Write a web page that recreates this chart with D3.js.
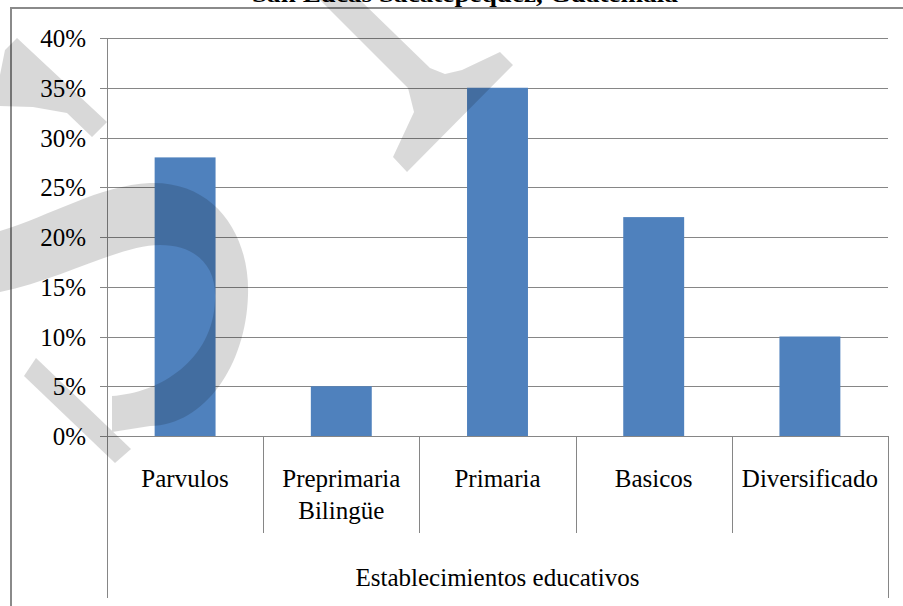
<!DOCTYPE html>
<html>
<head>
<meta charset="utf-8">
<script src="https://cdn.jsdelivr.net/npm/d3@7"></script>
<style>
  body { margin: 0; background: #fff; }
</style>
</head>
<body>
<svg width="903" height="606"></svg>
<script>
var categories = ["Parvulos", "Preprimaria Bilingüe", "Primaria", "Basicos", "Diversificado"];
var values = [0.28, 0.05, 0.35, 0.22, 0.10];
var yTicks = [0, 0.05, 0.10, 0.15, 0.20, 0.25, 0.30, 0.35, 0.40];
var title = "San Lucas Sacatepéquez, Guatemala";
var axisTitle = "Establecimientos educativos";

var svg = d3.select("svg"),
    plotLeft = 107,
    plotRight = 888,
    plotTop = 38,
    plotBottom = 436,
    boxBottom = 598,
    gridColor = "#868686",
    font = "'Liberation Serif'",
    fontSize = 25;

var x = d3.scaleBand()
    .domain(categories)
    .range([plotLeft, plotRight]);

var y = d3.scaleLinear()
    .domain([0, 0.4])
    .range([plotBottom, plotTop]);

// chart frame (cut at right / bottom in the original)
svg.append("rect")
    .attr("x", 11).attr("y", 8)
    .attr("width", 920).attr("height", 640)
    .attr("fill", "none")
    .attr("stroke", "#8a8a8a")
    .attr("stroke-width", 2);

// title, mostly cropped
svg.append("text")
    .attr("x", 252).attr("y", 2)
    .attr("textLength", 426)
    .attr("lengthAdjust", "spacingAndGlyphs")
    .attr("font-family", font)
    .attr("font-size", 24)
    .attr("font-weight", "bold")
    .text(title);

// gridlines + tick marks
svg.append("g")
    .selectAll("line")
    .data(yTicks)
    .enter().append("line")
    .attr("x1", plotLeft - 7)
    .attr("x2", plotRight)
    .attr("y1", function(d) { return Math.round(y(d)) + 0.5; })
    .attr("y2", function(d) { return Math.round(y(d)) + 0.5; })
    .attr("stroke", gridColor);

svg.append("g")
    .selectAll("text")
    .data(yTicks)
    .enter().append("text")
    .attr("x", 86)
    .attr("y", function(d) { return y(d); })
    .attr("dy", "0.36em")
    .attr("text-anchor", "end")
    .attr("font-family", font)
    .attr("font-size", fontSize)
    .text(d3.format(".0%"));

// bars
var barW = x.bandwidth() * 0.39;
svg.append("g")
    .selectAll("rect")
    .data(values)
    .enter().append("rect")
    .attr("x", function(d, i) { return x(categories[i]) + (x.bandwidth() - barW) / 2; })
    .attr("y", function(d) { return y(d); })
    .attr("width", barW)
    .attr("height", function(d) { return y(0) - y(d); })
    .attr("fill", "#4F81BD");

// y axis line down through the category box
svg.append("line")
    .attr("x1", plotLeft + 0.5).attr("x2", plotLeft + 0.5)
    .attr("y1", plotTop).attr("y2", boxBottom)
    .attr("stroke", gridColor);

// category dividers
var edges = categories.map(function(c) { return x(c) + x.bandwidth(); });
svg.append("g")
    .selectAll("line")
    .data(edges)
    .enter().append("line")
    .attr("x1", function(d) { return Math.round(d) + 0.5; })
    .attr("x2", function(d) { return Math.round(d) + 0.5; })
    .attr("y1", plotBottom)
    .attr("y2", function(d, i) { return i == edges.length - 1 ? boxBottom : 533; })
    .attr("stroke", gridColor);

// category labels (wrap on spaces for the two-word one)
var labels = svg.append("g")
    .selectAll("text")
    .data(categories)
    .enter().append("text")
    .attr("text-anchor", "middle")
    .attr("font-family", font)
    .attr("font-size", fontSize);

labels.each(function(d) {
    var words = d.split(" "),
        t = d3.select(this);
    words.forEach(function(w, k) {
        t.append("tspan")
            .attr("x", x(d) + x.bandwidth() / 2)
            .attr("y", 487 + k * 32)
            .text(w);
    });
});

svg.append("text")
    .attr("x", (plotLeft + plotRight) / 2)
    .attr("y", 586)
    .attr("text-anchor", "middle")
    .attr("font-family", font)
    .attr("font-size", fontSize)
    .text(axisTitle);

// grey watermark over the page
var mark = svg.append("g")
    .attr("opacity", 0.15)
    .attr("fill", "#000");

mark.append("path")
    .attr("d", "M0,75L5,50L17,38L107,122L92,137L67,113L33,107L0,106Z");
mark.append("path")
    .attr("d", "M0,231C50,216 100,185 150,183C215,181 250,235 248,295C246,365 205,425 150,426L112,432L112,396C160,393 213,360 215,300C217,265 195,245 160,245C120,245 60,280 0,292Z");
mark.append("path")
    .attr("d", "M24,376L36,358L131,449L115,463Z");
mark.append("path")
    .attr("d", "M320,0L360,0L430,68L445,74L462,70L500,52L513,65L407,172L393,157L414,112L408,88Z");
</script>
</body>
</html>
